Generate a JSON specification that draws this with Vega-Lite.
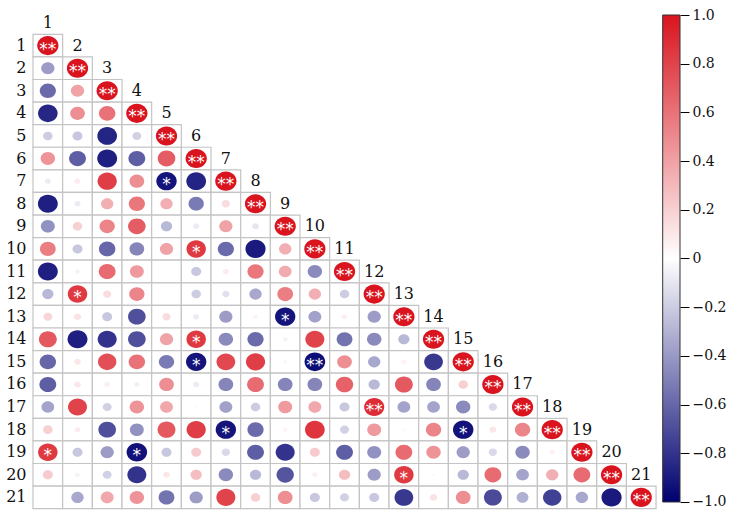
{
 "$schema": "https://vega.github.io/schema/vega-lite/v6.json",
 "width": 647, "height": 495,
 "autosize": {"type": "none"},
 "padding": {"left": 33, "top": 15, "right": 49, "bottom": 1},
 "background": "white",
 "config": {"view": {"stroke": null}, "font": "DejaVu Serif"},
 "data": {"values": [
  {"r":1,"c":1,"v":1,"s":"**"},
  {"r":2,"c":1,"v":-0.39},{"r":2,"c":2,"v":1,"s":"**"},
  {"r":3,"c":1,"v":-0.58},{"r":3,"c":2,"v":0.39},{"r":3,"c":3,"v":1,"s":"**"},
  {"r":4,"c":1,"v":-0.85},{"r":4,"c":2,"v":0.48},{"r":4,"c":3,"v":0.6},{"r":4,"c":4,"v":1,"s":"**"},
  {"r":5,"c":1,"v":-0.2},{"r":5,"c":2,"v":-0.22},{"r":5,"c":3,"v":-0.86},{"r":5,"c":4,"v":-0.18},{"r":5,"c":5,"v":1,"s":"**"},
  {"r":6,"c":1,"v":0.46},{"r":6,"c":2,"v":-0.63},{"r":6,"c":3,"v":-0.88},{"r":6,"c":4,"v":-0.63},{"r":6,"c":5,"v":0.69},{"r":6,"c":6,"v":1,"s":"**"},
  {"r":7,"c":1,"v":-0.08},{"r":7,"c":2,"v":0.08},{"r":7,"c":3,"v":0.82},{"r":7,"c":4,"v":0.48},{"r":7,"c":5,"v":-0.92,"s":"*"},{"r":7,"c":6,"v":-0.86},{"r":7,"c":7,"v":1,"s":"**"},
  {"r":8,"c":1,"v":-0.88},{"r":8,"c":2,"v":-0.08},{"r":8,"c":3,"v":0.34},{"r":8,"c":4,"v":0.58},{"r":8,"c":5,"v":0.34},{"r":8,"c":6,"v":-0.52},{"r":8,"c":7,"v":0.15},{"r":8,"c":8,"v":1,"s":"**"},
  {"r":9,"c":1,"v":-0.43},{"r":9,"c":2,"v":0.2},{"r":9,"c":3,"v":0.52},{"r":9,"c":4,"v":0.69},{"r":9,"c":5,"v":-0.28},{"r":9,"c":6,"v":-0.08},{"r":9,"c":7,"v":0.39},{"r":9,"c":8,"v":-0.1},{"r":9,"c":9,"v":1,"s":"**"},
  {"r":10,"c":1,"v":0.55},{"r":10,"c":2,"v":-0.22},{"r":10,"c":3,"v":-0.6},{"r":10,"c":4,"v":-0.48},{"r":10,"c":5,"v":0.39},{"r":10,"c":6,"v":0.84,"s":"*"},{"r":10,"c":7,"v":-0.58},{"r":10,"c":8,"v":-0.9},{"r":10,"c":9,"v":0.34},{"r":10,"c":10,"v":1,"s":"**"},
  {"r":11,"c":1,"v":-0.88},{"r":11,"c":2,"v":-0.05},{"r":11,"c":3,"v":0.63},{"r":11,"c":4,"v":0.43},{"r":11,"c":5,"v":0},{"r":11,"c":6,"v":-0.22},{"r":11,"c":7,"v":0.08},{"r":11,"c":8,"v":0.58},{"r":11,"c":9,"v":0.36},{"r":11,"c":10,"v":-0.46},{"r":11,"c":11,"v":1,"s":"**"},
  {"r":12,"c":1,"v":-0.28},{"r":12,"c":2,"v":0.84,"s":"*"},{"r":12,"c":3,"v":0.15},{"r":12,"c":4,"v":0.52},{"r":12,"c":5,"v":0},{"r":12,"c":6,"v":-0.2},{"r":12,"c":7,"v":-0.12},{"r":12,"c":8,"v":-0.34},{"r":12,"c":9,"v":0.55},{"r":12,"c":10,"v":0.34},{"r":12,"c":11,"v":-0.2},{"r":12,"c":12,"v":1,"s":"**"},
  {"r":13,"c":1,"v":0.18},{"r":13,"c":2,"v":0.12},{"r":13,"c":3,"v":-0.22},{"r":13,"c":4,"v":-0.69},{"r":13,"c":5,"v":0.15},{"r":13,"c":6,"v":-0.08},{"r":13,"c":7,"v":-0.39},{"r":13,"c":8,"v":0.05},{"r":13,"c":9,"v":-0.92,"s":"*"},{"r":13,"c":10,"v":-0.37},{"r":13,"c":11,"v":0.07},{"r":13,"c":12,"v":-0.39},{"r":13,"c":13,"v":1,"s":"**"},
  {"r":14,"c":1,"v":0.71},{"r":14,"c":2,"v":-0.88},{"r":14,"c":3,"v":-0.8},{"r":14,"c":4,"v":-0.69},{"r":14,"c":5,"v":0.39},{"r":14,"c":6,"v":0.84,"s":"*"},{"r":14,"c":7,"v":-0.46},{"r":14,"c":8,"v":-0.58},{"r":14,"c":9,"v":-0.05},{"r":14,"c":10,"v":0.8},{"r":14,"c":11,"v":-0.55},{"r":14,"c":12,"v":-0.46},{"r":14,"c":13,"v":-0.28},{"r":14,"c":14,"v":1,"s":"**"},
  {"r":15,"c":1,"v":-0.6},{"r":15,"c":2,"v":0.1},{"r":15,"c":3,"v":0.75},{"r":15,"c":4,"v":0.6},{"r":15,"c":5,"v":-0.52},{"r":15,"c":6,"v":-0.92,"s":"*"},{"r":15,"c":7,"v":0.78},{"r":15,"c":8,"v":0.82},{"r":15,"c":9,"v":0.04},{"r":15,"c":10,"v":-0.95,"s":"**"},{"r":15,"c":11,"v":0.48},{"r":15,"c":12,"v":-0.34},{"r":15,"c":13,"v":0.06},{"r":15,"c":14,"v":-0.78},{"r":15,"c":15,"v":1,"s":"**"},
  {"r":16,"c":1,"v":-0.63},{"r":16,"c":2,"v":0.1},{"r":16,"c":3,"v":0.07},{"r":16,"c":4,"v":-0.06},{"r":16,"c":5,"v":0.48},{"r":16,"c":6,"v":-0.08},{"r":16,"c":7,"v":-0.48},{"r":16,"c":8,"v":0.63},{"r":16,"c":9,"v":-0.48},{"r":16,"c":10,"v":-0.48},{"r":16,"c":11,"v":0.67},{"r":16,"c":12,"v":-0.28},{"r":16,"c":13,"v":0.71},{"r":16,"c":14,"v":-0.48},{"r":16,"c":15,"v":0.2},{"r":16,"c":16,"v":1,"s":"**"},
  {"r":17,"c":1,"v":-0.36},{"r":17,"c":2,"v":0.8},{"r":17,"c":3,"v":-0.18},{"r":17,"c":4,"v":0.46},{"r":17,"c":5,"v":0.37},{"r":17,"c":6,"v":-0.02},{"r":17,"c":7,"v":-0.37},{"r":17,"c":8,"v":-0.2},{"r":17,"c":9,"v":0.43},{"r":17,"c":10,"v":0.37},{"r":17,"c":11,"v":-0.22},{"r":17,"c":12,"v":0.9,"s":"**"},{"r":17,"c":13,"v":-0.36},{"r":17,"c":14,"v":-0.36},{"r":17,"c":15,"v":-0.46},{"r":17,"c":16,"v":-0.15},{"r":17,"c":17,"v":1,"s":"**"},
  {"r":18,"c":1,"v":0.2},{"r":18,"c":2,"v":0.08},{"r":18,"c":3,"v":-0.69},{"r":18,"c":4,"v":-0.43},{"r":18,"c":5,"v":0.71},{"r":18,"c":6,"v":0.82},{"r":18,"c":7,"v":-0.92,"s":"*"},{"r":18,"c":8,"v":-0.58},{"r":18,"c":9,"v":0.05},{"r":18,"c":10,"v":0.86},{"r":18,"c":11,"v":-0.18},{"r":18,"c":12,"v":0.43},{"r":18,"c":13,"v":0.03},{"r":18,"c":14,"v":0.52},{"r":18,"c":15,"v":-0.93,"s":"*"},{"r":18,"c":16,"v":0.1},{"r":18,"c":17,"v":0.52},{"r":18,"c":18,"v":1,"s":"**"},
  {"r":19,"c":1,"v":0.84,"s":"*"},{"r":19,"c":2,"v":-0.22},{"r":19,"c":3,"v":-0.39},{"r":19,"c":4,"v":-0.93,"s":"*"},{"r":19,"c":5,"v":-0.22},{"r":19,"c":6,"v":0.22},{"r":19,"c":7,"v":-0.15},{"r":19,"c":8,"v":-0.63},{"r":19,"c":9,"v":-0.8},{"r":19,"c":10,"v":0.22},{"r":19,"c":11,"v":-0.63},{"r":19,"c":12,"v":-0.43},{"r":19,"c":13,"v":0.63},{"r":19,"c":14,"v":0.46},{"r":19,"c":15,"v":-0.39},{"r":19,"c":16,"v":-0.15},{"r":19,"c":17,"v":-0.46},{"r":19,"c":18,"v":0.06},{"r":19,"c":19,"v":1,"s":"**"},
  {"r":20,"c":1,"v":0.22},{"r":20,"c":2,"v":-0.05},{"r":20,"c":3,"v":-0.18},{"r":20,"c":4,"v":-0.8},{"r":20,"c":5,"v":0.1},{"r":20,"c":6,"v":0.28},{"r":20,"c":7,"v":-0.46},{"r":20,"c":8,"v":-0.28},{"r":20,"c":9,"v":-0.67},{"r":20,"c":10,"v":0.07},{"r":20,"c":11,"v":0.28},{"r":20,"c":12,"v":-0.39},{"r":20,"c":13,"v":0.84,"s":"*"},{"r":20,"c":14,"v":-0.02},{"r":20,"c":15,"v":-0.28},{"r":20,"c":16,"v":0.63},{"r":20,"c":17,"v":-0.36},{"r":20,"c":18,"v":0.34},{"r":20,"c":19,"v":0.63},{"r":20,"c":20,"v":1,"s":"**"},
  {"r":21,"c":1,"v":0},{"r":21,"c":2,"v":-0.34},{"r":21,"c":3,"v":0.37},{"r":21,"c":4,"v":0.46},{"r":21,"c":5,"v":-0.55},{"r":21,"c":6,"v":-0.39},{"r":21,"c":7,"v":0.8},{"r":21,"c":8,"v":0.2},{"r":21,"c":9,"v":0.48},{"r":21,"c":10,"v":-0.22},{"r":21,"c":11,"v":-0.18},{"r":21,"c":12,"v":-0.22},{"r":21,"c":13,"v":-0.78},{"r":21,"c":14,"v":0.12},{"r":21,"c":15,"v":0.48},{"r":21,"c":16,"v":-0.71},{"r":21,"c":17,"v":-0.31},{"r":21,"c":18,"v":-0.75},{"r":21,"c":19,"v":-0.34},{"r":21,"c":20,"v":-0.9},{"r":21,"c":21,"v":1,"s":"**"}
 ]},
 "layer": [
  {"encoding": {
     "x": {"field": "c", "type": "ordinal", "scale": {"domain": [1,2,3,4,5,6,7,8,9,10,11,12,13,14,15,16,17,18,19,20,21], "paddingInner": 0, "paddingOuter": 0.4035, "align": 0}, "axis": null},
     "y": {"field": "r", "type": "ordinal", "scale": {"domain": [1,2,3,4,5,6,7,8,9,10,11,12,13,14,15,16,17,18,19,20,21], "paddingInner": 0, "paddingOuter": 0.456, "align": 0.937},
           "axis": {"title": null, "orient": "left", "ticks": false, "domain": false, "grid": false, "labelFont": "DejaVu Serif", "labelFontSize": 16, "labelColor": "#111", "labelPadding": 7}}
   },
   "layer": [
    {"mark": {"type": "rect", "fill": "white", "stroke": "#c4c4c4", "strokeWidth": 1.2}},
    {"mark": {"type": "point", "shape": "M-1,0A1,0.9,0,1,1,1,0A1,0.9,0,1,1,-1,0Z", "filled": true, "opacity": 1, "strokeWidth": 0},
     "encoding": {
       "color": {"field": "v", "type": "quantitative", "scale": {"domain": [-1, 0, 1], "range": ["#000070", "#ffffff", "#d9141e"], "interpolate": "rgb"}, "legend": null},
       "size": {"field": "v", "type": "quantitative", "scale": {"domain": [-1, 0, 1], "range": [450, 0, 450]}, "legend": null}
     }},
    {"transform": [{"filter": "isValid(datum.s)"}],
     "mark": {"type": "text", "color": "white", "font": "DejaVu Sans", "fontSize": 17, "baseline": "alphabetic", "dy": 9},
     "encoding": {"text": {"field": "s", "type": "nominal"}}},
    {"transform": [{"filter": "datum.r == datum.c"}],
     "mark": {"type": "text", "color": "#111", "font": "DejaVu Serif", "fontSize": 16, "baseline": "middle", "dy": -22.59},
     "encoding": {"text": {"field": "c", "type": "nominal"}}}
   ]
  },
  {"data": {"values": [{"lo": -1, "hi": 1}]},
   "mark": {"type": "rect", "fill": {"gradient": "linear", "x1": 0, "y1": 1, "x2": 0, "y2": 0, "stops": [{"offset": 0, "color": "#000070"}, {"offset": 0.5, "color": "#ffffff"}, {"offset": 1, "color": "#d9141e"}]}, "stroke": "#333", "strokeWidth": 1},
   "encoding": {
     "x": {"datum": 0, "type": "quantitative", "scale": {"domain": [-36.4, 1], "nice": false, "zero": false}, "axis": null},
     "x2": {"datum": 1},
     "y": {"field": "lo", "type": "quantitative", "scale": {"domain": [-1.0329, 1], "nice": false, "zero": false},
           "axis": {"title": null, "orient": "right", "values": [-1, -0.8, -0.6, -0.4, -0.2, 0, 0.2, 0.4, 0.6, 0.8, 1], "labelExpr": "datum.value == 0 ? '0' : format(datum.value, '.1f')", "domain": false, "ticks": true, "tickSize": 9, "tickColor": "#000", "tickWidth": 1, "grid": false, "labelFont": "DejaVu Serif", "labelFontSize": 14, "labelColor": "#111", "labelPadding": 3, "labelOverlap": false}},
     "y2": {"field": "hi"}
   }
  }
 ],
 "resolve": {"scale": {"x": "independent", "y": "independent"}, "axis": {"y": "independent"}}
}
